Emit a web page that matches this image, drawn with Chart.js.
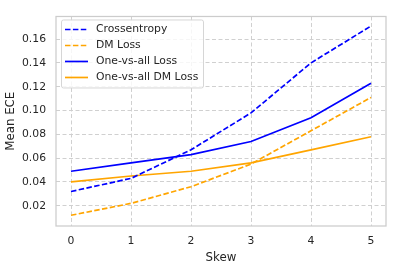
<!DOCTYPE html>
<html>
<head>
<meta charset="utf-8">
<script src="https://cdn.jsdelivr.net/npm/chart.js@4"></script>
<style>
  html, body { margin: 0; padding: 0; background: #fff; }
  #wrap { width: 399px; height: 269px; }
</style>
</head>
<body>
<div id="wrap"><canvas id="ece" width="399" height="269"></canvas></div>
<script>
// data
var skew = [0, 1, 2, 3, 4, 5];
var crossentropy = [0.032, 0.043, 0.067, 0.098, 0.140, 0.171];
var dmLoss = [0.012, 0.022, 0.036, 0.055, 0.083, 0.111];
var ovaLoss = [0.049, 0.056, 0.063, 0.074, 0.094, 0.123];
var ovaDmLoss = [0.040, 0.045, 0.049, 0.056, 0.067, 0.078];
var yTicks = [0.02, 0.04, 0.06, 0.08, 0.10, 0.12, 0.14, 0.16];
var xTicks = [0, 1, 2, 3, 4, 5];

var BLUE = '#0000ff';
var ORANGE = '#ffa500';
var DASH = [5.5, 2.4];
var GRID_DASH = [4, 2.5];
var TXT = '#262626';
var FONT = 'DejaVu Sans';

function pts(ys) {
  return skew.map(function (x, i) { return { x: x, y: ys[i] }; });
}

function mkSet(label, ys, color, dashed) {
  return {
    label: label,
    data: pts(ys),
    borderColor: color,
    backgroundColor: color,
    borderWidth: 1.7,
    borderDash: dashed ? DASH : [],
    pointRadius: 0,
    fill: false,
    tension: 0
  };
}

// legend drawn inside plot area, top left (like matplotlib)
var boxLegend = {
  id: 'boxLegend',
  afterDatasetsDraw: function (chart) {
    var ctx = chart.ctx;
    var a = chart.chartArea;
    var x0 = a.left + 5, y0 = a.top + 3;
    var w = 142, rowH = 16, h = 4 * rowH + 4;
    ctx.save();
    ctx.fillStyle = 'rgba(255,255,255,0.8)';
    ctx.strokeStyle = '#d6d6d6';
    ctx.lineWidth = 1;
    ctx.beginPath();
    if (ctx.roundRect) ctx.roundRect(x0 + 0.5, y0 + 0.5, w, h, 2);
    else ctx.rect(x0 + 0.5, y0 + 0.5, w, h);
    ctx.fill();
    ctx.stroke();
    ctx.font = '10.8px "' + FONT + '"';
    ctx.textBaseline = 'middle';
    chart.data.datasets.forEach(function (ds, i) {
      var cy = y0 + 10 + i * rowH;
      ctx.strokeStyle = ds.borderColor;
      ctx.lineWidth = 1.7;
      ctx.setLineDash(ds.borderDash);
      ctx.beginPath();
      ctx.moveTo(x0 + 4, cy);
      ctx.lineTo(x0 + 27, cy);
      ctx.stroke();
      ctx.setLineDash([]);
      ctx.fillStyle = TXT;
      ctx.fillText(ds.label, x0 + 35, cy);
    });
    ctx.restore();
  }
};

// light gray frame around the plot
var frame = {
  id: 'frame',
  afterDraw: function (chart) {
    var a = chart.chartArea, ctx = chart.ctx;
    ctx.save();
    ctx.strokeStyle = '#cccccc';
    ctx.lineWidth = 1.25;
    ctx.strokeRect(a.left, a.top, a.right - a.left, a.bottom - a.top);
    ctx.restore();
  }
};

var ctxEce = document.getElementById('ece');
var eceChart = new Chart(ctxEce, {
  type: 'line',
  data: {
    datasets: [
      mkSet('Crossentropy', crossentropy, BLUE, true),
      mkSet('DM Loss', dmLoss, ORANGE, true),
      mkSet('One-vs-all Loss', ovaLoss, BLUE, false),
      mkSet('One-vs-all DM Loss', ovaDmLoss, ORANGE, false)
    ]
  },
  options: {
    responsive: false,
    animation: false,
    layout: { padding: { top: 13, right: 13, left: 0, bottom: 0 } },
    plugins: { legend: { display: false }, tooltip: { enabled: false } },
    scales: {
      x: {
        type: 'linear',
        min: -0.25,
        max: 5.25,
        afterBuildTicks: function (s) { s.ticks = xTicks.map(function (v) { return { value: v }; }); },
        afterFit: function (s) { s.height = 43; },
        border: { display: false, dash: GRID_DASH },
        grid: { color: '#d0d0d0', lineWidth: 1, drawTicks: false },
        ticks: {
          color: TXT, padding: 9, maxRotation: 0,
          font: { family: FONT, size: 10.8 },
          callback: function (v) { return String(v); }
        },
        title: { display: true, text: 'Skew', color: TXT, font: { family: FONT, size: 11.8 }, padding: { top: 2 } }
      },
      y: {
        min: 0.003,
        max: 0.179,
        afterBuildTicks: function (s) { s.ticks = yTicks.map(function (v) { return { value: v }; }); },
        afterFit: function (s) { s.width = 56; },
        border: { display: false, dash: GRID_DASH },
        grid: { color: '#d0d0d0', lineWidth: 1, drawTicks: false },
        ticks: {
          color: TXT, padding: 10,
          font: { family: FONT, size: 10.8 },
          callback: function (v) { return v.toFixed(2); }
        },
        title: { display: true, text: 'Mean ECE', color: TXT, font: { family: FONT, size: 11.8 }, padding: { top: 4, bottom: 0 } }
      }
    }
  },
  plugins: [frame, boxLegend]
});
</script>
</body>
</html>
